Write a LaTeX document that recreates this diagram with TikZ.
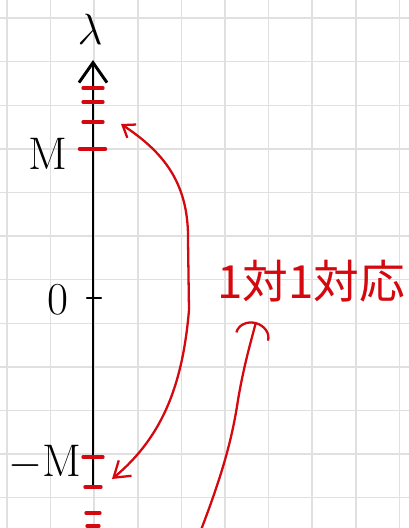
\documentclass[tikz,border=0pt]{standalone}
\usepackage{fontspec}
\newfontfamily\jpfont{Noto Sans CJK JP}
\usetikzlibrary{arrows.meta,positioning}
\definecolor{penred}{RGB}{212,8,14}
\definecolor{gridgray}{RGB}{224,224,224}

\begin{document}
\begin{tikzpicture}[x=0.02cm, y=-0.02cm,
    lbl/.style={font=\fontsize{26}{28}\selectfont, inner sep=0pt},
    axisline/.style={line width=1.7pt, line cap=round},
    redtick/.style={penred, line width=1.9pt, line cap=round},
    penline/.style={penred, line width=1.3pt, line cap=round}]
  \useasboundingbox[fill=white] (0,0) rectangle (409,528);
  % grid paper
  \foreach \gi in {0,...,9} {
    \draw[gridgray, line width=0.8pt] (7+43.6*\gi,0) -- (7+43.6*\gi,528);
  }
  \foreach \gi in {0,...,11} {
    \draw[gridgray, line width=0.8pt] (0,18+43.6*\gi) -- (409,18+43.6*\gi);
  }

  % axis
  \coordinate (axbot) at (93,487);
  \coordinate (axtop) at (93,60);
  \draw[axisline, -{Straight Barb[length=0.4cm, width=0.56cm]}] (axbot) -- (axtop);
  \node[lbl, font=\fontsize{31}{33}\selectfont] (lam) at (90,29) {$\lambda$};

  % red ticks
  \foreach \ty/\tw in {88/10, 102/10, 122/10, 457/10, 487/8, 513/7, 526/6} {
    \draw[redtick] (93-\tw,\ty) -- (93+\tw,\ty);
  }
  \draw[redtick, line width=2.6pt] (80,149) -- (105,149);
  \draw[axisline, line width=1.4pt] (87,298) -- (101,298);

  \node[lbl] (labM) at (48,154) {M};
  \node[lbl] (labO) at (58,300) {0};
  \node[lbl] (labnegM) at (45,463) {$-$M};

  % correspondence
  \coordinate (mtop) at (121,124);
  \coordinate (mbot) at (112,479);
  \draw[penline, {Straight Barb[length=0.22cm, width=0.32cm]}-{Straight Barb[length=0.3cm, width=0.4cm]}]
    (mtop) .. controls (160,150) and (189,180) .. (188,240)
    -- (189,310) .. controls (183,380) and (165,435) .. (mbot);

  \node[penred, font=\jpfont\fontsize{26}{28}\selectfont, inner sep=0pt] (corr) at (311,281) {1対1対応};
  \coordinate (tailpt) at (201,530);
  \coordinate (headpt) at (256,322);
  \draw[penline, -{Arc Barb[length=0.3cm, width=0.7cm]}]
    (tailpt) .. controls (222,475) and (232,440) .. (238,400)
    .. controls (244,365) and (250,345) .. (headpt);
\end{tikzpicture}
\end{document}
